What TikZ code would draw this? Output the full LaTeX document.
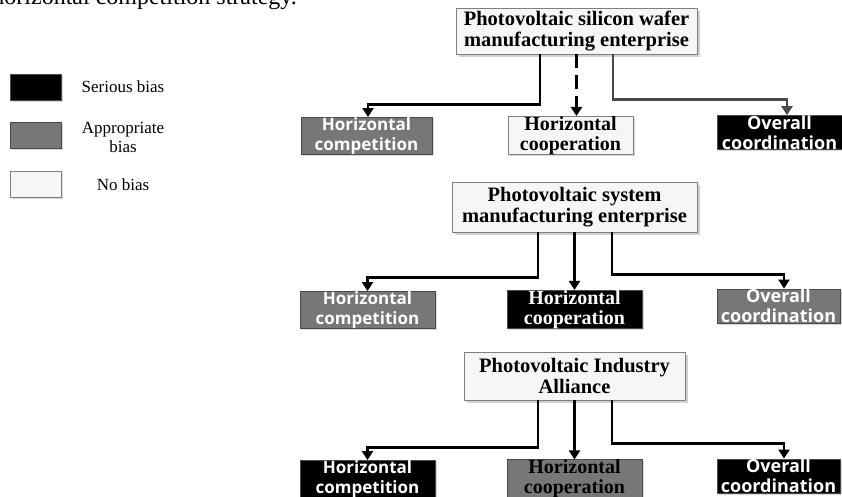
\documentclass[tikz,border=0pt]{standalone}
\usepackage{fontspec}
\setmainfont{Liberation Serif}
\newfontfamily\rowsans{Open Sans}
\usetikzlibrary{arrows.meta,shadows}
\definecolor{apprgray}{HTML}{777777}
\definecolor{edgegray}{HTML}{7F7F7F}
\definecolor{darkedge}{HTML}{4A4A4A}
\definecolor{lightfill}{HTML}{F6F6F6}
\begin{document}
\begin{tikzpicture}[x=1pt,y=-1pt,
  titlebox/.style={draw=edgegray, line width=0.9pt, fill=lightfill, align=center, inner sep=0pt,
    font=\fontsize{20.5}{21}\selectfont\bfseries,
    drop shadow={shadow xshift=2.5pt, shadow yshift=-2.5pt, fill=gray!60, opacity=0.6}},
  rowbox/.style={line width=0.9pt, align=center, inner sep=0pt, minimum height=34pt,
    drop shadow={shadow xshift=1.5pt, shadow yshift=-1.5pt, fill=gray!60, opacity=0.5}},
  serious/.style={rowbox, draw=darkedge, fill=black},
  appr/.style={rowbox, draw=darkedge, fill=apprgray},
  nobias/.style={rowbox, draw=edgegray, fill=lightfill},
  sanslab/.style={font=\rowsans\fontsize{17}{20}\selectfont\bfseries, text=white},
  sanswide/.style={font=\rowsans\fontsize{18}{20}\selectfont\bfseries, text=white},
  seriflab/.style={font=\fontsize{20}{20}\selectfont\bfseries},
  legbox/.style={line width=0.9pt, minimum width=51pt, minimum height=26pt, inner sep=0pt,
    drop shadow={shadow xshift=1.5pt, shadow yshift=-1.5pt, fill=gray!60, opacity=0.5}},
  legtext/.style={font=\fontsize{17}{19}\selectfont, align=center},
  conn/.style={line width=2.4pt, -{Triangle[width=11pt,length=9pt]}},
]
\useasboundingbox (0,0) rectangle (842,496);
\clip (0,0) rectangle (842,496);

% clipped caption fragment at the top
\node[anchor=base east, font=\fontsize{24}{26}\selectfont, inner sep=0pt] (cap) at (297,4) {horizontal competition strategy.};

% legend
\node[legbox, draw=darkedge, fill=black] (l1) at (35.5,87) {};
\node[legbox, draw=darkedge, fill=apprgray] (l2) at (35.5,135.5) {};
\node[legbox, draw=edgegray, fill=lightfill] (l3) at (35.5,184.5) {};
\node[legtext] (lt1) at (123,87) {Serious bias};
\node[legtext] (lt2) at (123,137) {Appropriate\\bias};
\node[legtext] (lt3) at (123,185) {No bias};

% group 1
\node[titlebox, minimum width=241pt, minimum height=46pt] (T1) at (576.5,31) {Photovoltaic silicon wafer\\manufacturing enterprise};
\node[appr, sanslab, minimum width=131pt] (A1) at (366.5,136) {Horizontal\\competition};
\node[nobias, seriflab, minimum width=125pt, minimum height=33pt] (B1) at (570.5,135.5) {Horizontal\\cooperation};
\node[serious, sanswide, minimum width=125pt, minimum height=31pt] (C1) at (779.5,132.5) {Overall\\coordination};
\draw[conn] ([xshift=-36.5pt]T1.south) -- ++(0,50) -| ([xshift=1.5pt]A1.north);
\draw[conn, dash pattern=on 14pt off 7pt] (T1.south) -- (T1.south |- B1.north);
\draw[conn, color=darkedge] ([xshift=36.5pt]T1.south) -- ++(0,45) -| ([xshift=7.5pt]C1.north);

% group 2
\node[titlebox, minimum width=245pt, minimum height=50pt] (T2) at (574.5,207) {Photovoltaic system\\manufacturing enterprise};
\node[appr, sanslab, minimum width=135pt] (A2) at (367.5,310) {Horizontal\\competition};
\node[serious, seriflab, text=white, minimum width=135pt, minimum height=33pt] (B2) at (574.5,309.5) {Horizontal\\cooperation};
\node[appr, sanswide, minimum width=123pt] (C2) at (778.5,306) {Overall\\coordination};
\draw[conn] ([xshift=-36.5pt]T2.south) -- ++(0,45) -| (A2.north);
\draw[conn] (T2.south) -- (T2.south |- B2.north);
\draw[conn] ([xshift=37.5pt]T2.south) -- ++(0,42) -| ([xshift=5.5pt]C2.north);

% group 3
\node[titlebox, minimum width=221pt, minimum height=48pt] (T3) at (574.5,376) {Photovoltaic Industry\\Alliance};
\node[serious, sanslab, minimum width=135pt] (A3) at (367.5,479) {Horizontal\\competition};
\node[appr, seriflab, minimum width=135pt] (B3) at (574.5,479) {Horizontal\\cooperation};
\node[serious, sanswide, minimum width=123pt] (C3) at (778.5,476) {Overall\\coordination};
\draw[conn] ([xshift=-36.5pt]T3.south) -- ++(0,47) -| (A3.north);
\draw[conn] (T3.south) -- (T3.south |- B3.north);
\draw[conn] ([xshift=37.5pt]T3.south) -- ++(0,43) -| ([xshift=5.5pt]C3.north);
\end{tikzpicture}
\end{document}
